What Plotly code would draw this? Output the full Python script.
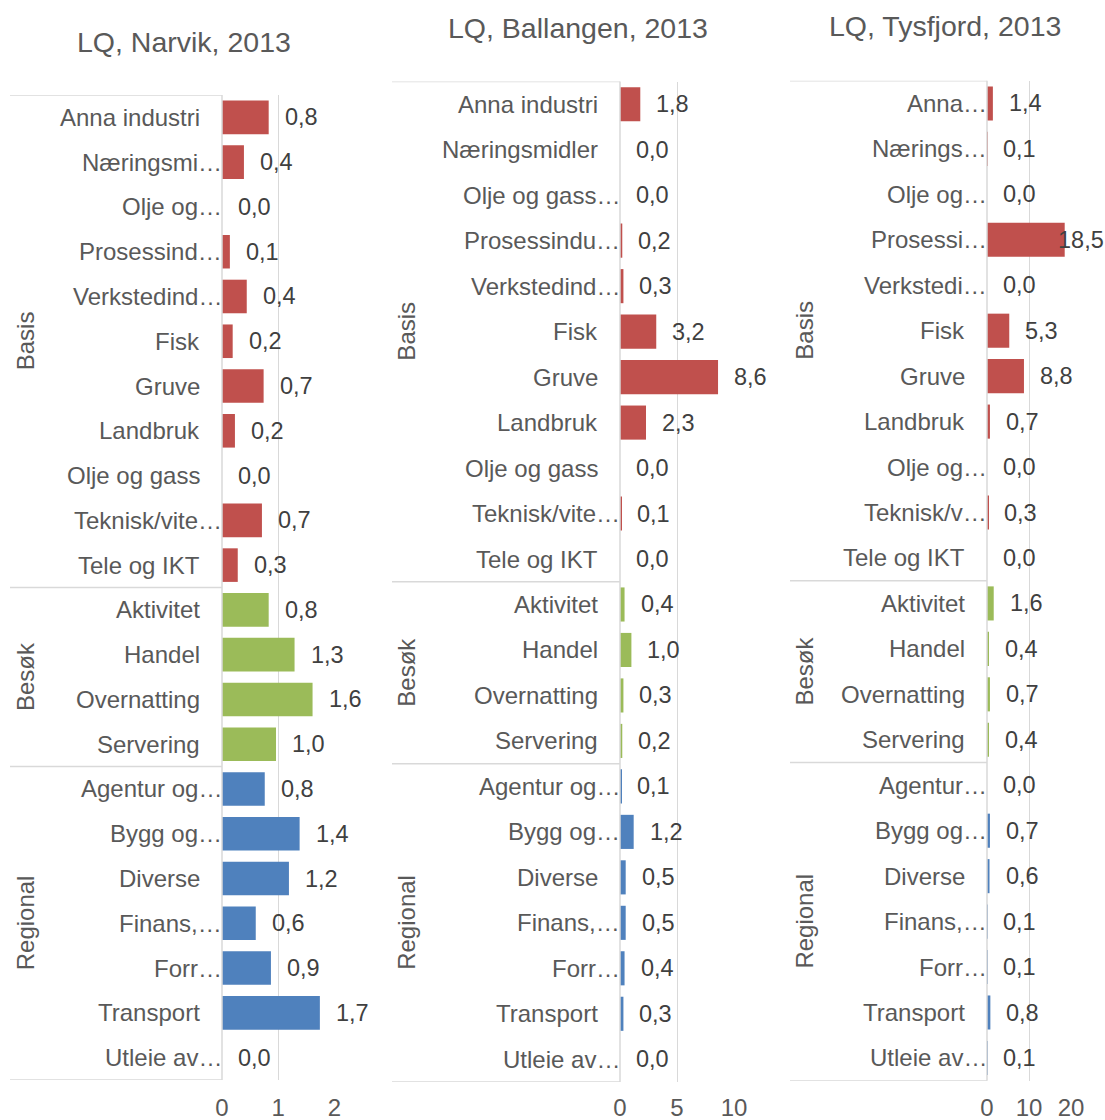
import plotly.graph_objects as go

# kategorier per kommune (tekst som i figuren, med avkorting)
narvik_labels = ["Anna industri", "Næringsmi…", "Olje og…", "Prosessind…", "Verkstedind…",
                 "Fisk", "Gruve", "Landbruk", "Olje og gass", "Teknisk/vite…", "Tele og IKT",
                 "Aktivitet", "Handel", "Overnatting", "Servering",
                 "Agentur og…", "Bygg og…", "Diverse", "Finans,…", "Forr…", "Transport", "Utleie av…"]
ballangen_labels = ["Anna industri", "Næringsmidler", "Olje og gass…", "Prosessindu…", "Verkstedind…",
                    "Fisk", "Gruve", "Landbruk", "Olje og gass", "Teknisk/vite…", "Tele og IKT",
                    "Aktivitet", "Handel", "Overnatting", "Servering",
                    "Agentur og…", "Bygg og…", "Diverse", "Finans,…", "Forr…", "Transport", "Utleie av…"]
tysfjord_labels = ["Anna…", "Nærings…", "Olje og…", "Prosessi…", "Verkstedi…",
                   "Fisk", "Gruve", "Landbruk", "Olje og…", "Teknisk/v…", "Tele og IKT",
                   "Aktivitet", "Handel", "Overnatting", "Servering",
                   "Agentur…", "Bygg og…", "Diverse", "Finans,…", "Forr…", "Transport", "Utleie av…"]

groups = ["Basis"] * 11 + ["Besøk"] * 4 + ["Regional"] * 7
group_names = ["Basis", "Besøk", "Regional"]

narvik = [0.83, 0.39, 0.0, 0.14, 0.44, 0.19, 0.74, 0.23, 0.0, 0.71, 0.28,
          0.83, 1.29, 1.61, 0.96,
          0.76, 1.38, 1.19, 0.60, 0.87, 1.74, 0.0]
ballangen = [1.78, 0.0, 0.0, 0.2, 0.3, 3.18, 8.6, 2.28, 0.0, 0.1, 0.0,
             0.4, 1.0, 0.3, 0.2,
             0.1, 1.2, 0.5, 0.5, 0.4, 0.3, 0.0]
tysfjord = [1.4, 0.1, 0.0, 18.5, 0.0, 5.3, 8.8, 0.7, 0.0, 0.3, 0.0,
            1.6, 0.4, 0.7, 0.4,
            0.0, 0.7, 0.6, 0.1, 0.1, 0.8, 0.1]

titles = ["LQ, Narvik, 2013", "LQ, Ballangen, 2013", "LQ, Tysfjord, 2013"]
x_max = [2, 10, 20]
x_dtick = [1, 5, 10]

colors = {"Basis": "#C0504D", "Besøk": "#9BBB59", "Regional": "#4F81BD"}

W, H = 1105, 1120
# (venstre kant kategoriboks, x0, x1, topp, bunn, tittel x, tittel y, gruppetekst x) i piksler
panels = [(10, 222, 334.5, 95, 1080, 184, 42, 25),
          (392, 620, 734, 81.5, 1082, 578, 28, 407),
          (790, 987, 1071, 80.7, 1080.7, 945, 26, 805)]

grey = "#595959"
dark = "#404040"
line = "#D9D9D9"
FONT = "Liberation Sans"

fig = go.Figure()
anns = []
shapes = []
n = len(groups)
for i, (labels, vals) in enumerate([(narvik_labels, narvik), (ballangen_labels, ballangen),
                                     (tysfjord_labels, tysfjord)]):
    left, x0, x1, top, bot, tx, ty, gx = panels[i]
    sfx = "" if i == 0 else str(i + 1)
    xa, ya = "x" + sfx, "y" + sfx
    fig.add_trace(go.Bar(
        x=vals, y=list(range(n)), orientation="h", width=0.75,
        marker_color=[colors[g] for g in groups], marker_line_width=0,
        xaxis=xa, yaxis=ya, showlegend=False, hoverinfo="x+y"))
    fig.layout["xaxis" + sfx] = dict(
        domain=[x0 / W, x1 / W], range=[0, x_max[i]], dtick=x_dtick[i], anchor=ya,
        showgrid=True, gridcolor=line, gridwidth=1.3, zeroline=False, showline=False,
        ticks="outside", ticklen=0, ticklabelstandoff=int(1086 - bot), automargin=False,
        tickfont=dict(family=FONT, size=24, color=grey), fixedrange=True)
    fig.layout["yaxis" + sfx] = dict(
        domain=[(H - bot) / H, (H - top) / H], range=[n - 0.5, -0.5], anchor=xa,
        automargin=False,
        showticklabels=False, showgrid=False, zeroline=False, showline=False, fixedrange=True)
    # vertikal akse ved null
    shapes.append(dict(type="line", xref="paper", yref="paper", x0=x0 / W, x1=x0 / W,
                       y0=(H - bot) / H, y1=(H - top) / H, line=dict(color=line, width=1.5)))
    # horisontale linjer i kategoriboksen
    for yb in [-0.5, 10.5, 14.5, n - 0.5]:
        shapes.append(dict(type="line", xref="paper", yref=ya, x0=left / W, x1=x0 / W,
                           y0=yb, y1=yb, line=dict(color=line, width=1.5)))
    # kategoritekster
    for k, lab in enumerate(labels):
        anns.append(dict(x=0, y=k, xref=xa, yref=ya, text=lab, showarrow=False,
                         xanchor="right", yanchor="middle",
                         xshift=2 if lab.endswith("…") else -20,
                         font=dict(family=FONT, size=24, color=grey)))
    # dataetiketter
    scale = (x1 - x0) / x_max[i]
    for k, v in enumerate(vals):
        end_px = x0 + v * scale
        shift = min(14, W - 49 - end_px)
        anns.append(dict(x=v, y=k, xref=xa, yref=ya,
                         text=f"{v:.1f}".replace(".", ","), showarrow=False,
                         xanchor="left", yanchor="middle", xshift=shift,
                         font=dict(family=FONT, size=23.5, color=dark)))
    # gruppetekster
    for g in group_names:
        idx = [k for k, gg in enumerate(groups) if gg == g]
        anns.append(dict(x=gx / W, y=(idx[0] + idx[-1]) / 2, xref="paper", yref=ya,
                         text=g, textangle=-90, showarrow=False,
                         xanchor="center", yanchor="middle",
                         font=dict(family=FONT, size=24, color=grey)))
    # tittel
    anns.append(dict(x=tx / W, y=(H - ty) / H, xref="paper", yref="paper",
                     text=titles[i], showarrow=False, xanchor="center", yanchor="middle",
                     font=dict(family=FONT, size=28.5, color=grey)))

fig.update_layout(width=W, height=H, margin=dict(l=0, r=0, t=0, b=0, autoexpand=False),
                  paper_bgcolor="white", plot_bgcolor="white",
                  annotations=anns, shapes=shapes, bargap=0.25)

fig.write_html("out.html", config={"displayModeBar": False, "responsive": False},
               post_script="document.documentElement.style.overflow='hidden';"
                           "document.body.style.margin='0';document.body.style.overflow='hidden';")
